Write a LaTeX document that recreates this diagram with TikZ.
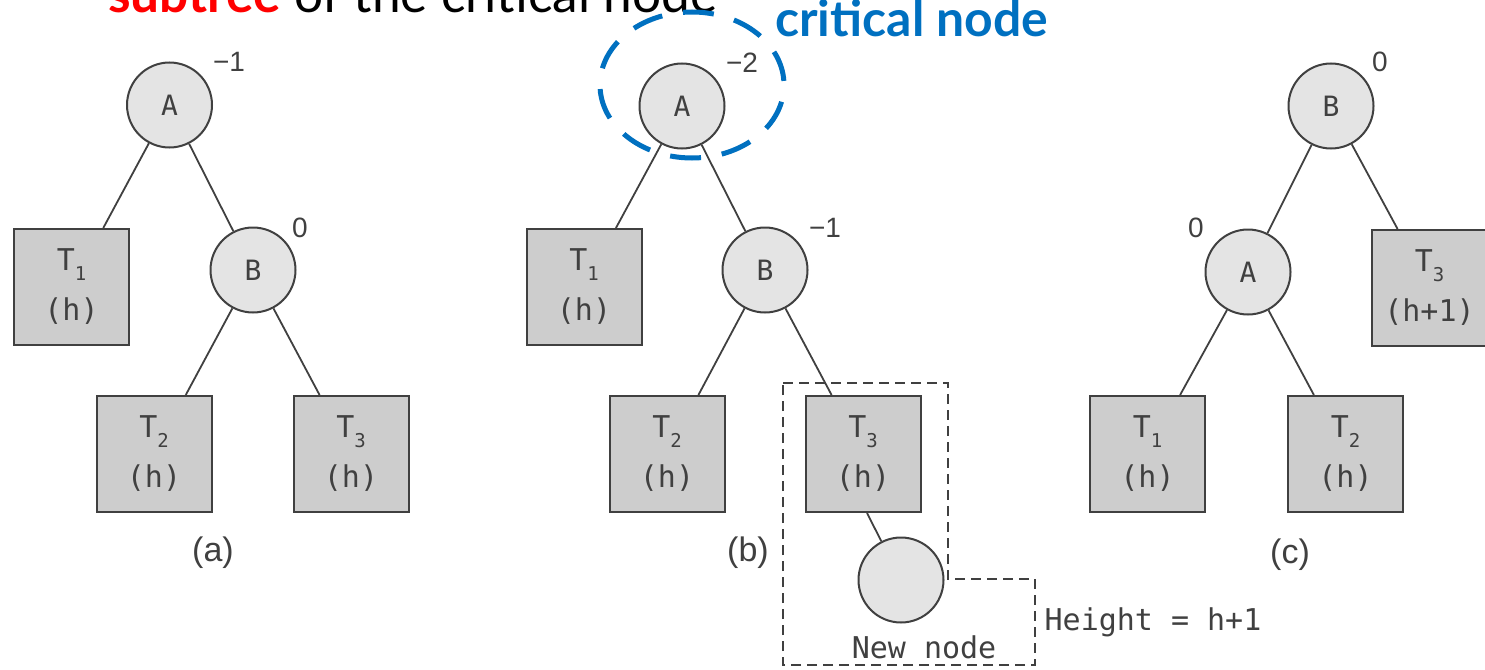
\documentclass[tikz,border=0pt]{standalone}
\usepackage{fontspec}
\setmainfont{Liberation Sans}
\newfontfamily\monof{DejaVu Sans Mono}
\newfontfamily\slidef{Lato}

\definecolor{ink}{HTML}{404040}
\definecolor{circfill}{HTML}{E4E4E4}
\definecolor{boxfill}{HTML}{CDCDCD}
\definecolor{slideblue}{HTML}{0070C0}
\definecolor{slidered}{HTML}{FF0000}

% subtree name with a lowered index
\newcommand\tsub[1]{T\raisebox{-10pt}{\fontsize{19}{19}\selectfont #1}}

\tikzset{
  vert/.style={circle, draw=ink, fill=circfill, line width=2pt, minimum size=85pt,
    inner sep=0pt, font=\monof\fontsize{28}{28}\selectfont, text=ink},
  subt/.style={rectangle, draw=ink, fill=boxfill, line width=2pt, minimum width=115pt,
    minimum height=116pt, inner sep=0pt, align=center,
    font=\monof\fontsize{30}{50}\selectfont, text=ink},
  edge/.style={draw=ink, line width=1.8pt},
  bal/.style={inner sep=0pt, font=\fontsize{28}{28}\selectfont, text=ink},
  capt/.style={inner sep=0pt, font=\fontsize{34}{34}\selectfont, text=ink},
  mono/.style={inner sep=0pt, font=\monof\fontsize{30}{30}\selectfont, text=ink},
  region/.style={draw=ink, line width=2pt, dash pattern=on 10pt off 6pt},
}

\begin{document}
\begin{tikzpicture}[x=1pt, y=-1pt]
\useasboundingbox (0,0) rectangle (1485,669);
\clip (0,0) rectangle (1485,669);

% slide annotations
\node[anchor=base west, inner sep=0pt] (title) at (108,13)
  {\resizebox{609pt}{!}{\slidef{\color{slidered}\bfseries subtree} of the critical node}};
\node[anchor=base west, inner sep=0pt, text=slideblue] (crit) at (775,37)
  {\resizebox{273pt}{!}{\slidef\bfseries critical node}};

% (a) balanced before insertion
\node[vert] (aA) at (169.5,105) {A};
\node[bal] (aAb) at (229,62) {−1};
\node[subt] (aT1) at (71.5,287) {\tsub{1}\\(h)};
\node[vert] (aB) at (253,270) {B};
\node[bal] (aBb) at (300,228) {0};
\node[subt] (aT2) at (154,454) {\tsub{2}\\(h)};
\node[subt] (aT3) at (351,454) {\tsub{3}\\(h)};
\node[capt] (acap) at (213,553) {(a)};
\draw[edge] (aA) -- (aT1);
\draw[edge] (aA) -- (aB);
\draw[edge] (aB) -- (aT2);
\draw[edge] (aB) -- (aT3);

% (b) after inserting into T3
\node[vert] (bA) at (682,106) {A};
\node[bal] (bAb) at (742,63) {−2};
\node[subt] (bT1) at (584,287) {\tsub{1}\\(h)};
\node[vert] (bB) at (765,270) {B};
\node[bal] (bBb) at (825,228) {−1};
\node[subt] (bT2) at (667,454) {\tsub{2}\\(h)};
\node[subt] (bT3) at (863,454) {\tsub{3}\\(h)};
\node[vert] (bN) at (901,580) {};
\node[capt] (bcap) at (748,553) {(b)};
\node[mono] (newlab) at (924,647) {New node};
\node[mono] (hlab) at (1153,622) {Height = h+1};
\draw[edge] (bA) -- (bT1);
\draw[edge] (bA) -- (bB);
\draw[edge] (bB) -- (bT2);
\draw[edge] (bB) -- (bT3);
\draw[edge] ([xshift=4pt]bT3.south) -- (bN);
\draw[region] (783,383) -- (948,383) -- (948,579) -- (1035,579) -- (1035,665)
  -- (783,665) -- cycle;

% critical node marker
\coordinate (critc) at (692,85);
\draw[slideblue, line width=5pt, dash pattern=on 31pt off 21pt, dash phase=35pt]
  (critc) ellipse (92 and 73);

% (c) after the rotation
\node[vert] (cB) at (1331,106) {B};
\node[bal] (cBb) at (1380,62) {0};
\node[vert] (cA) at (1248,272) {A};
\node[bal] (cAb) at (1196,228) {0};
\node[subt] (cT3) at (1429.5,288) {\tsub{3}\\(h+1)};
\node[subt] (cT1) at (1147.5,454) {\tsub{1}\\(h)};
\node[subt] (cT2) at (1345.5,454) {\tsub{2}\\(h)};
\node[capt] (ccap) at (1290,555) {(c)};
\draw[edge] (cB) -- (cA);
\draw[edge] (cB) -- (cT3);
\draw[edge] (cA) -- (cT1);
\draw[edge] (cA) -- (cT2);
\end{tikzpicture}
\end{document}
